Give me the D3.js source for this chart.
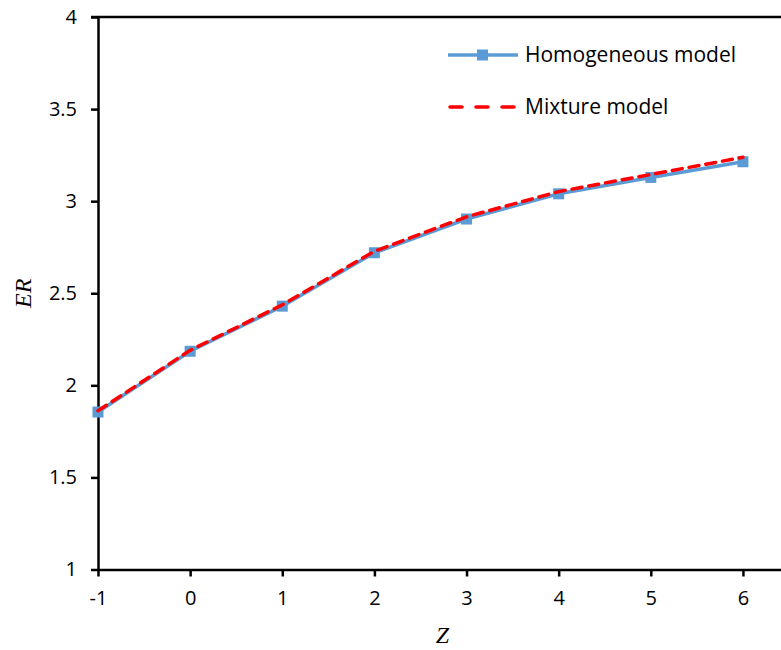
<!DOCTYPE html>
<html>
<head>
<meta charset="utf-8">
<script src="https://cdn.jsdelivr.net/npm/d3@7"></script>
<style>
  body { margin: 0; background: #fff; }
  text { font-family: "Open Sans", sans-serif; fill: #000; }
</style>
</head>
<body>
<svg id="chart" width="781" height="650"></svg>
<script>
// data
var zValues = [-1, 0, 1, 2, 3, 4, 5, 6];
var homogeneous = [1.855, 2.185, 2.43, 2.72, 2.903, 3.04, 3.129, 3.214];
var mixture = [1.862, 2.19, 2.437, 2.728, 2.915, 3.052, 3.145, 3.238];
var xTicks = [-1, 0, 1, 2, 3, 4, 5, 6];
var yTicks = [1, 1.5, 2, 2.5, 3, 3.5, 4];
var seriesNames = ["Homogeneous model", "Mixture model"];

var svg = d3.select("#chart");

var x = d3.scaleLinear().domain([-1, 6.5]).range([98, 789]);
var y = d3.scaleLinear().domain([1, 4]).range([569.5, 17]);

// axes (plain hyphen for negatives, like the original)
var xAxis = svg.append("g")
  .attr("transform", `translate(0,${y(1)})`)
  .call(d3.axisBottom(x).tickValues(xTicks).tickSize(7).tickPadding(14).tickSizeOuter(0)
    .tickFormat((d) => String(d)));
var yAxis = svg.append("g")
  .attr("transform", `translate(${x(-1)},0)`)
  .call(d3.axisLeft(y).tickValues(yTicks).tickSize(7).tickPadding(14).tickSizeOuter(0)
    .tickFormat((d) => String(d)));

[xAxis, yAxis].forEach((a) => {
  a.select(".domain").attr("stroke", "#000").attr("stroke-width", 2.5);
  a.selectAll(".tick line").attr("stroke", "#000").attr("stroke-width", 2.5);
  a.selectAll(".tick text")
    .attr("font-size", null)
    .style("font-size", "20px")
    .style("font-family", "Open Sans");
});

// top frame line
svg.append("line")
  .attr("x1", x(-1) - 7).attr("x2", x(6.5))
  .attr("y1", y(4)).attr("y2", y(4))
  .attr("stroke", "#000").attr("stroke-width", 2.5);

var line = d3.line().x((d) => x(d[0])).y((d) => y(d[1]));

var homData = zValues.map((z, i) => [z, homogeneous[i]]);
var mixData = zValues.map((z, i) => [z, mixture[i]]);

svg.append("path")
  .datum(homData)
  .attr("d", line)
  .attr("fill", "none")
  .attr("stroke", "#5b9bd5")
  .attr("stroke-width", 3.5);

svg.selectAll(".marker")
  .data(homData)
  .enter()
  .append("rect")
  .attr("class", "marker")
  .attr("x", (d) => x(d[0]) - 5.5)
  .attr("y", (d) => y(d[1]) - 5.5)
  .attr("width", 11)
  .attr("height", 11)
  .attr("fill", "#5b9bd5");

svg.append("path")
  .datum(mixData)
  .attr("d", line)
  .attr("fill", "none")
  .attr("stroke", "#ff0000")
  .attr("stroke-width", 3.5)
  .attr("stroke-dasharray", "10,7")
  .attr("stroke-linecap", "round");

// legend
var legend = svg.append("g");
legend.append("line")
  .attr("x1", 448).attr("x2", 518).attr("y1", 55).attr("y2", 55)
  .attr("stroke", "#5b9bd5").attr("stroke-width", 3.5);
legend.append("rect")
  .attr("x", 477).attr("y", 49.5).attr("width", 11).attr("height", 11)
  .attr("fill", "#5b9bd5");
legend.append("line")
  .attr("x1", 450).attr("x2", 518).attr("y1", 107).attr("y2", 107)
  .attr("stroke", "#ff0000").attr("stroke-width", 3.5)
  .attr("stroke-dasharray", "12,14").attr("stroke-linecap", "round");

legend.selectAll(".legend-label")
  .data(seriesNames)
  .enter()
  .append("text")
  .attr("class", "legend-label")
  .attr("x", 525)
  .attr("y", (d, i) => 55 + i * 52)
  .attr("dy", "0.35em")
  .text((d) => d)
  .style("font-size", "21px");

// axis titles
svg.append("text")
  .attr("x", (x(-1) + 781) / 2 + 3)
  .attr("y", 643)
  .attr("text-anchor", "middle")
  .style("font-family", "Liberation Serif")
  .style("font-style", "italic")
  .style("font-size", "24px")
  .text("Z");

svg.append("text")
  .attr("transform", `translate(31,${y(2.5)}) rotate(-90)`)
  .attr("text-anchor", "middle")
  .style("font-family", "Liberation Serif")
  .style("font-style", "italic")
  .style("font-size", "24px")
  .text("ER");
</script>
</body>
</html>
